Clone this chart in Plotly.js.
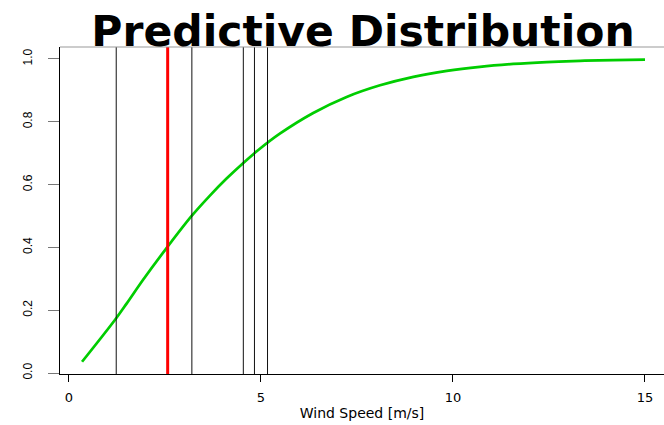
<!DOCTYPE html>
<html>
<head>
<meta charset="utf-8">
<script src="https://cdn.plot.ly/plotly-3.0.1.min.js"></script>
<style>html,body{margin:0;padding:0;background:#fff;}#chart{width:664px;height:425px;}</style>
</head>
<body>
<div id="chart"></div>
<script>
// Predictive CDF curve
const windSpeed = [0.34, 1.22, 1.50, 1.93, 2.56, 3.20, 3.67, 4.11, 4.54, 4.93, 5.49, 6.36, 7.23, 8.10, 8.97, 9.84, 10.70, 11.57, 12.44, 13.31, 14.17, 15.0];
const cdfValues = [0.036, 0.173, 0.221, 0.297, 0.401, 0.501, 0.565, 0.620, 0.669, 0.710, 0.762, 0.828, 0.879, 0.916, 0.943, 0.962, 0.975, 0.984, 0.990, 0.994, 0.9965, 0.998];
// Vertical lines: ensemble members (black) and observation (red)
const memberLines = [1.23, 3.20, 4.54, 4.83, 5.17];
const observedLine = [2.57];
// Tick labels
const xTickVals = [0, 5, 10, 15];
const xTickText = ["0", "5", "10", "15"];
const yTickVals = [0, 0.2, 0.4, 0.6, 0.8, 1.0];
const yTickText = ["0.0", "0.2", "0.4", "0.6", "0.8", "1.0"];

const shapes = [];
memberLines.forEach(v => shapes.push({type: 'line', xref: 'x', yref: 'paper', x0: v, x1: v, y0: 0, y1: 1, line: {color: '#111', width: 1}, layer: 'above'}));
observedLine.forEach(v => shapes.push({type: 'line', xref: 'x', yref: 'paper', x0: v, x1: v, y0: 0, y1: 1, line: {color: '#FF0000', width: 3}, layer: 'above'}));
shapes.push({type: 'line', xref: 'paper', yref: 'paper', x0: 0, x1: 1, y0: 1, y1: 1, line: {color: '#999', width: 1}});

const traces = [{
  x: windSpeed, y: cdfValues, type: 'scatter', mode: 'lines',
  line: {color: '#00CD00', width: 2.7, shape: 'spline', smoothing: 1},
  hoverinfo: 'skip'
}];

const layout = {
  width: 664, height: 425,
  margin: {l: 60, r: 0, t: 47, b: 51},
  paper_bgcolor: '#fff', plot_bgcolor: '#fff',
  showlegend: false,
  title: {
    text: 'Predictive Distribution',
    font: {family: 'DejaVu Sans', size: 42.5, color: '#000', weight: 'bold'},
    x: 363 / 664, xanchor: 'center', xref: 'container',
    y: 1 - 31 / 425, yanchor: 'middle', yref: 'container'
  },
  xaxis: {
    range: [-0.234, 15.495], showgrid: false, zeroline: false,
    showline: true, linecolor: '#000', linewidth: 1,
    tickmode: 'array', tickvals: xTickVals, ticktext: xTickText,
    ticks: 'outside', ticklen: 7, tickcolor: '#000', tickwidth: 1,
    ticklabelstandoff: 4,
    tickfont: {family: 'DejaVu Sans', size: 13, color: '#000'},
    title: {text: 'Wind Speed [m/s]', font: {family: 'DejaVu Sans', size: 14, color: '#000'}, standoff: 4}
  },
  yaxis: {
    range: [-0.003, 1.038], showgrid: false, zeroline: false,
    showline: true, linecolor: '#000', linewidth: 1,
    tickmode: 'array', tickvals: yTickVals, ticktext: yTickText,
    ticks: 'outside', ticklen: 11, tickcolor: '#777', tickwidth: 1,
    tickangle: -90, ticklabelstandoff: 11,
    tickfont: {family: 'Liberation Sans', size: 12, color: '#000'}
  },
  shapes: shapes
};

Plotly.newPlot('chart', traces, layout, {staticPlot: true, displayModeBar: false});
</script>
</body>
</html>
